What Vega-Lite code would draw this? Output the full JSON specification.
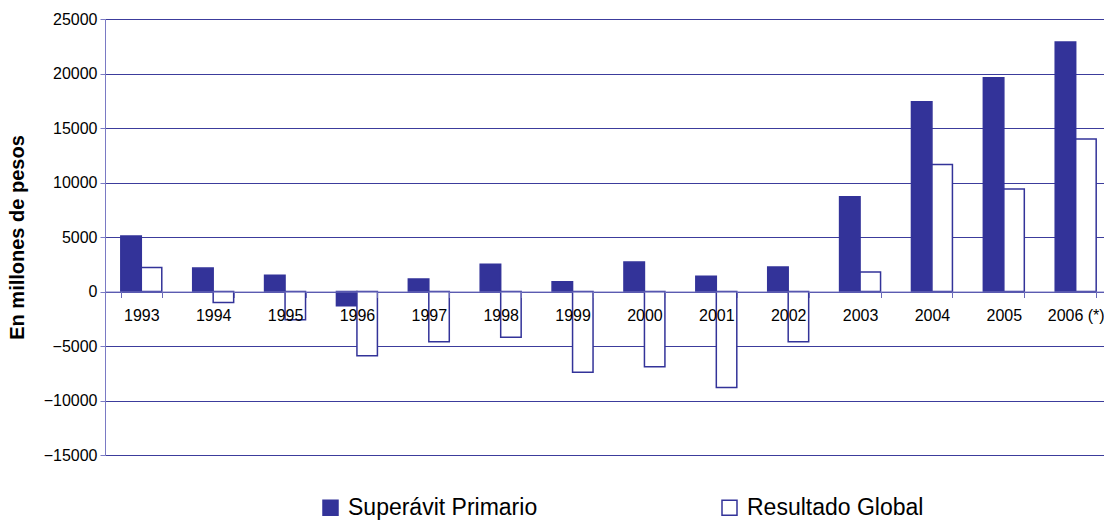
{
  "$schema": "https://vega.github.io/schema/vega-lite/v6.json",
  "width": 1007,
  "height": 436,
  "autosize": "none",
  "padding": {"left": 105, "top": 19, "right": 0, "bottom": 66},
  "background": "white",
  "data": {
    "values": [
      {"anio": "1993", "serie": "Superávit Primario", "valor": 5100},
      {"anio": "1993", "serie": "Resultado Global", "valor": 2200},
      {"anio": "1994", "serie": "Superávit Primario", "valor": 2150},
      {"anio": "1994", "serie": "Resultado Global", "valor": -1000},
      {"anio": "1995", "serie": "Superávit Primario", "valor": 1500},
      {"anio": "1995", "serie": "Resultado Global", "valor": -2600},
      {"anio": "1996", "serie": "Superávit Primario", "valor": -1300},
      {"anio": "1996", "serie": "Resultado Global", "valor": -5900},
      {"anio": "1997", "serie": "Superávit Primario", "valor": 1150},
      {"anio": "1997", "serie": "Resultado Global", "valor": -4600},
      {"anio": "1998", "serie": "Superávit Primario", "valor": 2500},
      {"anio": "1998", "serie": "Resultado Global", "valor": -4200},
      {"anio": "1999", "serie": "Superávit Primario", "valor": 900},
      {"anio": "1999", "serie": "Resultado Global", "valor": -7400},
      {"anio": "2000", "serie": "Superávit Primario", "valor": 2700},
      {"anio": "2000", "serie": "Resultado Global", "valor": -6900},
      {"anio": "2001", "serie": "Superávit Primario", "valor": 1400},
      {"anio": "2001", "serie": "Resultado Global", "valor": -8800},
      {"anio": "2002", "serie": "Superávit Primario", "valor": 2250},
      {"anio": "2002", "serie": "Resultado Global", "valor": -4600},
      {"anio": "2003", "serie": "Superávit Primario", "valor": 8700},
      {"anio": "2003", "serie": "Resultado Global", "valor": 1800},
      {"anio": "2004", "serie": "Superávit Primario", "valor": 17400},
      {"anio": "2004", "serie": "Resultado Global", "valor": 11650},
      {"anio": "2005", "serie": "Superávit Primario", "valor": 19600},
      {"anio": "2005", "serie": "Resultado Global", "valor": 9400},
      {"anio": "2006 (*)", "serie": "Superávit Primario", "valor": 22900},
      {"anio": "2006 (*)", "serie": "Resultado Global", "valor": 14000}
    ]
  },
  "mark": {"type": "bar", "stroke": "#333399", "strokeWidth": 1.5},
  "encoding": {
    "x": {
      "field": "anio",
      "type": "nominal",
      "sort": null,
      "title": null,
      "scale": {"paddingInner": 0.43, "paddingOuter": 0.22},
      "axis": {
        "orient": "bottom",
        "offset": -163.5,
        "zindex": 1,
        "labelAngle": 0,
        "labelFont": "Liberation Sans",
        "labelFontSize": 16,
        "labelColor": "#000000",
        "labelPadding": 10,
        "labelOverlap": false,
        "tickBand": "extent",
        "tickSize": 6,
        "tickColor": "#6a6ab8",
        "domainColor": "#7a7ac4",
        "grid": false
      }
    },
    "xOffset": {
      "field": "serie",
      "type": "nominal",
      "sort": ["Superávit Primario", "Resultado Global"],
      "scale": {"paddingInner": 0, "paddingOuter": 0}
    },
    "y": {
      "field": "valor",
      "type": "quantitative",
      "title": "En millones de pesos",
      "scale": {"domain": [-15000, 25000], "nice": false, "zero": false},
      "axis": {
        "zindex": 0,
        "values": [-15000, -10000, -5000, 0, 5000, 10000, 15000, 20000, 25000],
        "format": "d",
        "labelFont": "Liberation Sans",
        "labelFontSize": 16,
        "labelColor": "#000000",
        "labelPadding": 3,
        "tickSize": 5,
        "tickColor": "#7a7ac4",
        "domainColor": "#7a7ac4",
        "gridColor": "#3c3c9c",
        "gridWidth": 1,
        "gridOpacity": 1,
        "titleFont": "Liberation Sans",
        "titleFontSize": 20,
        "titleFontWeight": "bold",
        "titleColor": "#000000",
        "titleX": -78
      }
    },
    "fill": {
      "field": "serie",
      "type": "nominal",
      "sort": ["Superávit Primario", "Resultado Global"],
      "scale": {"domain": ["Superávit Primario", "Resultado Global"], "range": ["#333399", "#ffffff"]},
      "legend": {
        "title": null,
        "orient": "none",
        "direction": "horizontal",
        "legendX": 214,
        "legendY": 477,
        "symbolType": "square",
        "symbolSize": 225,
        "symbolStrokeColor": "#333399",
        "symbolStrokeWidth": 1.5,
        "symbolOpacity": 1,
        "labelFont": "Liberation Sans",
        "labelFontSize": 23,
        "labelColor": "#000000",
        "labelOffset": 6,
        "labelLimit": 400,
        "columnPadding": 180
      }
    }
  },
  "config": {"view": {"stroke": null}}
}
